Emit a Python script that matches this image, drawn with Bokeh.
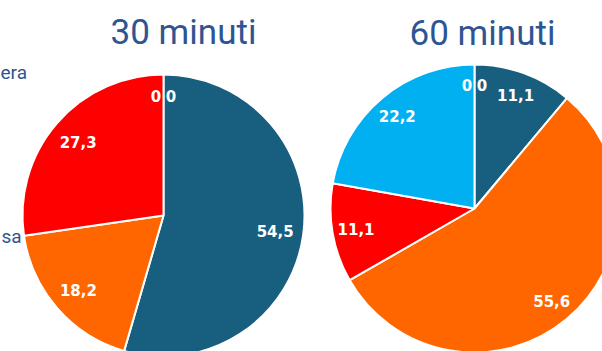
import math

from bokeh.core.properties import value
from bokeh.embed import file_html
from bokeh.models import ColumnDataSource, Range1d
from bokeh.plotting import figure
from bokeh.resources import INLINE

# Share of responses (%) per duration
titles = ["30 minuti", "60 minuti"]
shares_30 = [54.5, 18.2, 27.3, 0.0, 0.0]
shares_60 = [11.1, 55.6, 11.1, 22.2, 0.0, 0.0]
slice_colors = ["#175E7F", "#FF6600", "#FF0000", "#00B0F0", "#7F7F7F", "#A5A5A5"]
side_labels = ["era", "sa"]

W, H = 602, 351
TITLE_BLUE = "#2E5592"

p = figure(width=W, height=H, output_backend="svg", toolbar_location=None,
           x_range=Range1d(0, W), y_range=Range1d(0, H), min_border=0)
p.axis.visible = False
p.grid.visible = False
p.outline_line_color = None
p.background_fill_color = "white"
p.border_fill_color = "white"


def sy(y):
    # screen-style y (from the top) to data y
    return H - y


# tails of the category names peeking out on the left edge
p.text(x=[0, 1], y=[sy(72), sy(236)], text=side_labels,
       text_font=value("Roboto"), text_font_size="19px",
       text_color=TITLE_BLUE, text_align="left", text_baseline="alphabetic")

pies = [
    dict(values=shares_30, cx=163, cy=215, r=141, frac=0.80, zfrac=0.85, title_x=183, title_y=32),
    dict(values=shares_60, cx=474, cy=208, r=144, frac=0.835, zfrac=0.86, title_x=482, title_y=33),
]

for title, pie in zip(titles, pies):
    vals = pie["values"]
    total = sum(vals)
    starts, ends, cols = [], [], []
    lx, ly, lt = [], [], []
    cum = 0.0
    zero_count = 0
    for i, v in enumerate(vals):
        a0 = math.pi / 2 - 2 * math.pi * cum / total
        a1 = math.pi / 2 - 2 * math.pi * (cum + v) / total
        mid = (a0 + a1) / 2
        if v == 0:
            # empty slice: only its label, nudged aside so the pair stays readable
            rr = pie["zfrac"] * pie["r"]
            x = pie["cx"] + rr * math.cos(mid) + (-7.5 if zero_count == 0 else 7.5)
            y = sy(pie["cy"]) + rr * math.sin(mid)
            zero_count += 1
            txt = "0"
        else:
            starts.append(a0)
            ends.append(a1)
            cols.append(slice_colors[i])
            rr = pie["frac"] * pie["r"]
            x = pie["cx"] + rr * math.cos(mid)
            y = sy(pie["cy"]) + rr * math.sin(mid)
            txt = f"{v:.1f}".replace(".", ",")
        lx.append(x)
        ly.append(y)
        lt.append(txt)
        cum += v

    src = ColumnDataSource(dict(start=starts, end=ends, color=cols))
    p.wedge(x=pie["cx"], y=sy(pie["cy"]), radius=pie["r"],
            start_angle="start", end_angle="end", direction="clock",
            fill_color="color", line_color="white", line_width=2, source=src)

    p.text(x=lx, y=ly, text=lt, text_font=value("DejaVu Sans"),
           text_font_size="15px", text_font_style="bold", text_color="white",
           text_align="center", text_baseline="middle")

    p.text(x=[pie["title_x"]], y=[sy(pie["title_y"])], text=[title],
           text_font=value("Roboto"), text_font_size="35px",
           text_color=TITLE_BLUE, text_align="center", text_baseline="alphabetic")

open("out.html", "w").write(file_html(p, INLINE))
